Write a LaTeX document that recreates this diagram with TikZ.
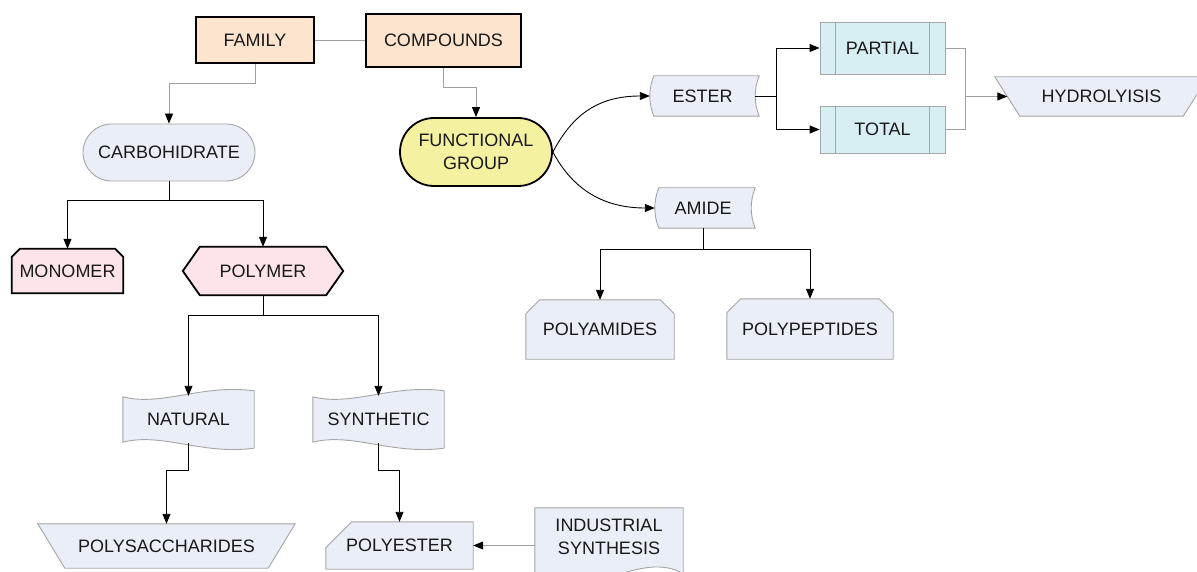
\documentclass[tikz,border=0pt]{standalone}
\usepackage{fontspec}
\setmainfont{Liberation Sans}
\usetikzlibrary{arrows.meta,calc,shapes.misc}
\pgfdeclarelayer{bg}
\pgfsetlayers{bg,main}
\definecolor{peach}{RGB}{252,228,206}
\definecolor{bluegray}{RGB}{233,238,247}
\definecolor{yel}{RGB}{244,241,160}
\definecolor{pinkf}{RGB}{252,228,234}
\definecolor{cyanf}{RGB}{215,238,243}
\definecolor{edgegray}{RGB}{165,165,165}
\definecolor{linegray}{RGB}{160,160,160}
\tikzset{
  lbl/.style={inner sep=0pt, align=center, font=\fontsize{18}{23}\selectfont, text=black!90},
  thickbk/.style={draw=black, line width=1.8pt},
  thingr/.style={draw=edgegray, line width=0.9pt},
  conn/.style={draw=black, line width=0.9pt},
  conng/.style={draw=linegray, line width=0.9pt},
  arr/.style={-{Triangle[length=10pt,width=8pt,color=black]}},
}
\newcommand\storedshape[2]{%
  \path[#2] ($(#1.north west)+(4,0)$) -- ($(#1.north east)+(4,0)$)
    .. controls ($(#1.north east)+(-1.33,13.3)$) and ($(#1.south east)+(-1.33,-13.3)$) .. ($(#1.south east)+(4,0)$)
    -- ($(#1.south west)+(4,0)$)
    .. controls ($(#1.south west)+(-1.33,-13.3)$) and ($(#1.north west)+(-1.33,13.3)$) .. ($(#1.north west)+(4,0)$) -- cycle;}
\newcommand\chamfshape[3]{%
  \path[#3] ($(#1.north west)+(#2,0)$) -- ($(#1.north east)+(-#2,0)$) -- ($(#1.north east)+(0,#2)$)
    -- (#1.south east) -- (#1.south west) -- ($(#1.north west)+(0,#2)$) -- cycle;}
\newcommand\hexshape[3]{%
  \path[#3] (#1.west) -- ($(#1.north west)+(#2,0)$) -- ($(#1.north east)+(-#2,0)$) -- (#1.east)
    -- ($(#1.south east)+(-#2,0)$) -- ($(#1.south west)+(#2,0)$) -- cycle;}
\newcommand\trapshape[3]{%
  \path[#3] ($(#1.north west)+(-#2,0)$) -- ($(#1.north east)+(#2,0)$) -- ($(#1.south east)+(-#2,0)$)
    -- ($(#1.south west)+(#2,0)$) -- cycle;}
\newcommand\cutshape[3]{%
  \path[#3] ($(#1.north west)+(#2,0)$) -- (#1.north east) -- (#1.south east) -- (#1.south west)
    -- ($(#1.north west)+(0,#2)$) -- cycle;}
\newcommand\tapeshape[2]{%
  \path[#2] ($(#1.north west)+(0,1)$)
    .. controls ($(#1.north west)!0.3!(#1.north east)+(0,11)$) and ($(#1.north west)!0.6!(#1.north east)+(0,-12)$) .. ($(#1.north east)+(0,-5)$)
    -- ($(#1.south east)+(0,5)$)
    .. controls ($(#1.south west)!0.6!(#1.south east)+(0,12)$) and ($(#1.south west)!0.3!(#1.south east)+(0,-11)$) .. ($(#1.south west)+(0,-1)$)
    -- cycle;}
\begin{document}
\begin{tikzpicture}[x=1pt,y=-1pt]
\useasboundingbox (0,0) rectangle (1197,572);
% nodes
\node[lbl, thickbk, fill=peach, minimum width=118pt, minimum height=46pt] (fam) at (255,40) {FAMILY};
\node[lbl, thickbk, fill=peach, minimum width=155pt, minimum height=53pt] (comp) at (443.5,40.5) {COMPOUNDS};
\node[lbl, thingr, fill=bluegray, rounded rectangle, minimum width=172pt, minimum height=57pt] (carb) at (169,152.5) {CARBOHIDRATE};
\node[lbl, thickbk, fill=yel, rounded rectangle, minimum width=152pt, minimum height=68pt] (func) at (476,152) {FUNCTIONAL\\GROUP};
\node[lbl, minimum width=105pt, minimum height=40pt] (ester) at (702.5,96) {ESTER};
\node[lbl, minimum width=96pt, minimum height=40pt] (amide) at (703,208) {AMIDE};
\node[lbl, thingr, fill=cyanf, minimum width=125pt, minimum height=52pt] (part) at (882.5,48) {PARTIAL};
\node[lbl, thingr, fill=cyanf, minimum width=125pt, minimum height=47pt] (tot) at (882.5,129.5) {TOTAL};
\node[lbl, minimum width=188pt, minimum height=39pt] (hyd) at (1101.5,96.5) {HYDROLYISIS};
\node[lbl, minimum width=111pt, minimum height=44pt] (mono) at (67.5,271) {MONOMER};
\node[lbl, minimum width=160pt, minimum height=48pt] (poly) at (263,271) {POLYMER};
\node[lbl, minimum width=131pt, minimum height=47pt] (nat) at (188.5,419.5) {NATURAL};
\node[lbl, minimum width=131pt, minimum height=47pt] (syn) at (378.5,419.5) {SYNTHETIC};
\node[lbl, minimum width=230pt, minimum height=44pt] (psac) at (166.5,546) {POLYSACCHARIDES};
\node[lbl, minimum width=147pt, minimum height=47pt] (pest) at (399.5,545.5) {POLYESTER};
\node[lbl, minimum width=148pt, minimum height=59pt] (pam) at (600,329.5) {POLYAMIDES};
\node[lbl, minimum width=166pt, minimum height=60pt] (ppep) at (810,329) {POLYPEPTIDES};
\node[lbl, minimum width=148pt, minimum height=58pt] (ind) at (609,537) {INDUSTRIAL\\SYNTHESIS};
% shapes behind the texts
\begin{pgfonlayer}{bg}
\storedshape{ester}{thingr, fill=bluegray}
\storedshape{amide}{thingr, fill=bluegray}
\trapshape{hyd}{12.5}{thingr, fill=bluegray}
\trapshape{psac}{13.5}{thingr, fill=bluegray}
\chamfshape{mono}{8}{thickbk, fill=pinkf}
\chamfshape{pam}{14}{thingr, fill=bluegray}
\chamfshape{ppep}{14}{thingr, fill=bluegray}
\hexshape{poly}{17}{thickbk, fill=pinkf}
\tapeshape{nat}{thingr, fill=bluegray}
\tapeshape{syn}{thingr, fill=bluegray}
\cutshape{pest}{26}{thingr, fill=bluegray}
\path[thingr, fill=bluegray] (ind.north west) -- (ind.north east) -- ($(ind.north east)+(0,66)$)
  .. controls ($(ind.north east)+(-43,40)$) and ($(ind.north east)+(-103,98)$) .. ($(ind.north west)+(0,76)$) -- cycle;
\end{pgfonlayer}
\draw[thingr] ($(part.north west)+(16,0)$) -- ($(part.south west)+(16,0)$);
\draw[thingr] ($(part.north east)+(-16,0)$) -- ($(part.south east)+(-16,0)$);
\draw[thingr] ($(tot.north west)+(16,0)$) -- ($(tot.south west)+(16,0)$);
\draw[thingr] ($(tot.north east)+(-16,0)$) -- ($(tot.south east)+(-16,0)$);
% connectors
\draw[conng] (fam.east) -- (fam.east -| comp.west);
\draw[conng, arr] (fam.south) -- ++(0,20) -| (carb.north);
\draw[conng, arr] (comp.south) -- ++(0,20) -| (func.north);
\draw[conn, arr] (carb.south) -- ++(0,19) -| (mono.north);
\draw[conn, arr] (carb.south) -- ++(0,19) -| (poly.north);
\draw[conn, arr] (poly.south) -- ++(0,20) -| (nat.north);
\draw[conn, arr] (poly.south) -- ++(0,20) -| (syn.north);
\draw[conn, arr] (nat.south) -- ++(0,27) -| (psac.north);
\draw[conn, arr] (syn.south) -- ++(0,27) -| (pest.north);
\draw[conng, arr] (ind.west |- pest.east) -- (pest.east);
\draw[conn, arr] (func.east) .. controls +(18,-34) and +(-55,0) .. (ester.west);
\draw[conn, arr] (func.east) .. controls +(18,34) and +(-55,0) .. (amide.west);
\draw[conn, arr] (ester.east) -- ++(21,0) |- (part.west);
\draw[conn, arr] (ester.east) -- ++(21,0) |- (tot.west);
\coordinate (jx) at ($(part.east)+(20,0)$);
\draw[conng] (part.east) -- (jx) |- (tot.east);
\draw[conng, arr] (jx |- hyd.west) -- (hyd.west);
\draw[conn, arr] (amide.south) -- ++(0,21) -| (pam.north);
\draw[conn, arr] (amide.south) -- ++(0,21) -| (ppep.north);
\end{tikzpicture}
\end{document}
